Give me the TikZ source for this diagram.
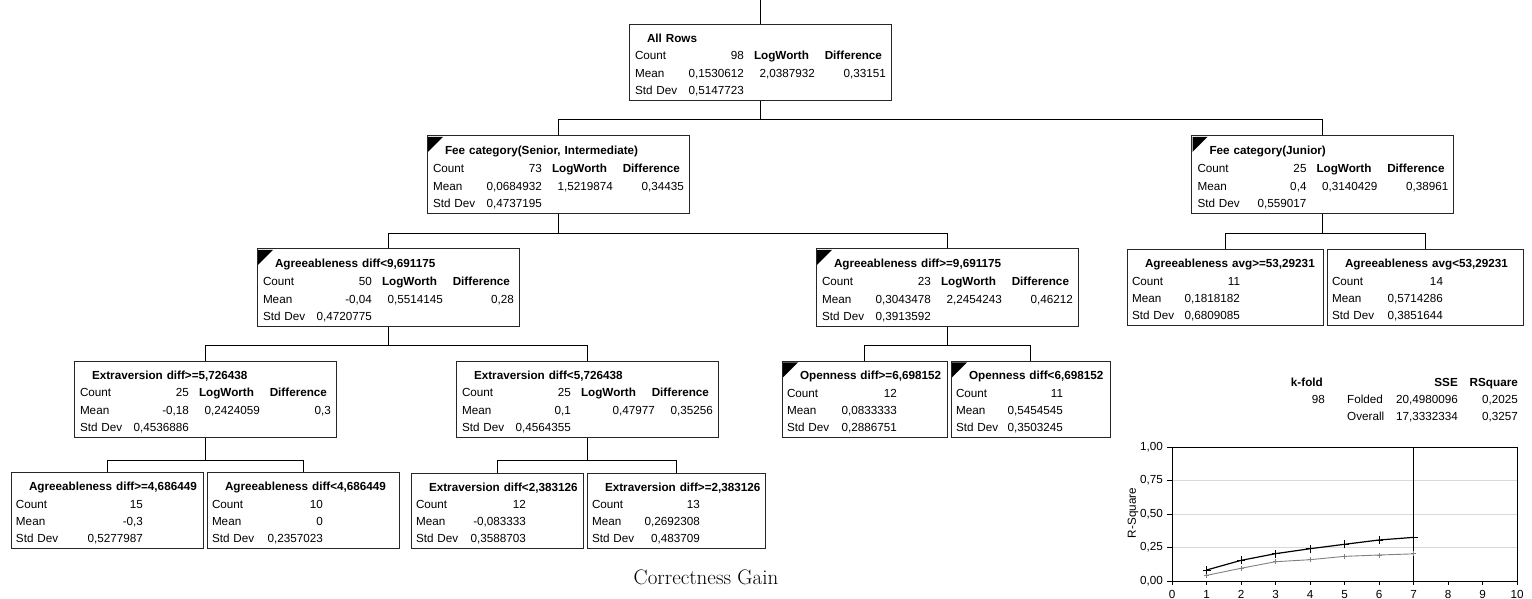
\documentclass[tikz,border=0pt]{standalone}
\usepackage{fontspec}
\setsansfont{Liberation Sans}

% one cell of a row, set at an offset (pt) from the left edge of its box
\newcommand\cellat[3]{\rlap{\hspace*{#1pt}\makebox[0pt][#2]{#3}}}
\newcommand\rowstrut{\rule[-2.3pt]{0pt}{17pt}}
% [logworth pos]{title}{count}{mean}{std dev}{logworth}{difference}
\newcommand\splitrows[7][186]{%
  \rowstrut\cellat{18}{l}{\bfseries #2}\\
  \rowstrut\cellat{6}{l}{Count}\cellat{115}{r}{#3}\cellat{125}{l}{\bfseries LogWorth}\cellat{253}{r}{\bfseries Difference}\\
  \rowstrut\cellat{6}{l}{Mean}\cellat{115}{r}{#4}\cellat{#1}{r}{#6}\cellat{257}{r}{#7}\\
  \rowstrut\cellat{6}{l}{Std Dev}\cellat{115}{r}{#5}}
% [value pos]{title}{count}{mean}{std dev}
\newcommand\leafrows[5][115]{%
  \rowstrut\cellat{18}{l}{\bfseries #2}\\
  \rowstrut\cellat{5}{l}{Count}\cellat{#1}{r}{#3}\\
  \rowstrut\cellat{5}{l}{Mean}\cellat{#1}{r}{#4}\\
  \rowstrut\cellat{5}{l}{Std Dev}\cellat{#1}{r}{#5}}

\begin{document}
\begin{tikzpicture}[
    x=1pt, y=-1pt,
    every node/.style={font=\sffamily\fontsize{11.7}{17}\selectfont},
    splitbox/.style={draw=black!85, line width=1pt, fill=white, text width=#1, inner xsep=0pt, inner ysep=3.5pt, align=left, minimum height=75pt},
    treeline/.style={line width=0.9pt},
    tabtext/.style={inner sep=0pt},
    captiontext/.style={font=\rmfamily\fontsize{21}{25}\selectfont, inner sep=0pt}
  ]
    \useasboundingbox (0,0) rectangle (1532,598);

    % Partition tree
    \node[splitbox=262pt] (root) at (760,62.5) {\splitrows{All Rows}{98}{0,1530612}{0,5147723}{2,0387932}{0,33151}};

    \node[splitbox=262pt] (fee1) at (558,174.5) {\splitrows{Fee category(Senior, Intermediate)}{73}{0,0684932}{0,4737195}{1,5219874}{0,34435}};
    \node[splitbox=262pt] (fee2) at (1322.5,174.5) {\splitrows{Fee category(Junior)}{25}{0,4}{0,559017}{0,3140429}{0,38961}};

    \node[splitbox=262pt] (agr1) at (388,287.5) {\splitrows{Agreeableness diff<9,691175}{50}{-0,04}{0,4720775}{0,5514145}{0,28}};
    \node[splitbox=262pt] (agr2) at (947,287.5) {\splitrows{Agreeableness diff>=9,691175}{23}{0,3043478}{0,3913592}{2,2454243}{0,46212}};
    \node[splitbox=196pt] (avg1) at (1225,287.5) {\leafrows[113]{Agreeableness avg>=53,29231}{11}{0,1818182}{0,6809085}};
    \node[splitbox=196pt] (avg2) at (1425,287.5) {\leafrows[116]{Agreeableness avg<53,29231}{14}{0,5714286}{0,3851644}};

    \node[splitbox=262pt] (ext1) at (205,399.5) {\splitrows{Extraversion diff>=5,726438}{25}{-0,18}{0,4536886}{0,2424059}{0,3}};
    \node[splitbox=262pt] (ext2) at (587,399.5) {\splitrows[199]{Extraversion diff<5,726438}{25}{0,1}{0,4564355}{0,47977}{0,35256}};
    \node[splitbox=165pt] (opn1) at (864.5,399.5) {\leafrows{Openness diff>=6,698152}{12}{0,0833333}{0,2886751}};
    \node[splitbox=159pt] (opn2) at (1030.5,399.5) {\leafrows[112]{Openness diff<6,698152}{11}{0,5454545}{0,3503245}};

    \node[splitbox=192pt] (leaf1) at (107,510.5) {\leafrows[132]{Agreeableness diff>=4,686449}{15}{-0,3}{0,5277987}};
    \node[splitbox=192pt] (leaf2) at (303,510.5) {\leafrows[116]{Agreeableness diff<4,686449}{10}{0}{0,2357023}};
    \node[splitbox=172pt] (leaf3) at (497,510.5) {\leafrows{Extraversion diff<2,383126}{12}{-0,083333}{0,3588703}};
    \node[splitbox=178pt] (leaf4) at (676,510.5) {\leafrows[113]{Extraversion diff>=2,383126}{13}{0,2692308}{0,483709}};

    % corner flags of the split nodes
    \foreach \n in {fee1,fee2,agr1,agr2,opn1,opn2}
      \fill (\n.north west) ++(1.5,1.5) -- ++(15,0) -- ++(-15,15) -- cycle;

    % Branches
    \coordinate (rootin) at (760,0);
    \draw[treeline] (rootin) -- (root.north);
    \draw[treeline] (root.south) -- ++(0,18) -| (fee1.north);
    \draw[treeline] (root.south) -- ++(0,18) -| (fee2.north);
    \draw[treeline] (fee1.south) -- ++(0,20) -| (agr1.north);
    \draw[treeline] (fee1.south) -- ++(0,20) -| (agr2.north);
    \draw[treeline] (fee2.south) -- ++(0,20) -| (avg1.north);
    \draw[treeline] (fee2.south) -- ++(0,20) -| (avg2.north);
    \draw[treeline] (agr1.south) -- ++(0,19) -| (ext1.north);
    \draw[treeline] (agr1.south) -- ++(0,19) -| (ext2.north);
    \draw[treeline] (agr2.south) -- ++(0,19) -| (opn1.north);
    \draw[treeline] (agr2.south) -- ++(0,19) -| (opn2.north);
    \draw[treeline] (ext1.south) -- ++(0,22) -| (leaf1.north);
    \draw[treeline] (ext1.south) -- ++(0,22) -| (leaf2.north);
    \draw[treeline] (ext2.south) -- ++(0,22) -| (leaf3.north);
    \draw[treeline] (ext2.south) -- ++(0,22) -| (leaf4.north);

    \node[captiontext, anchor=base] (gain) at (706,584) {Correctness Gain};

    % k-fold table
    \node[tabtext, anchor=base east] (kfold) at (1323,386) {\bfseries k-fold};
    \node[tabtext, anchor=base east] (kval) at (1325,403) {98};
    \node[tabtext, anchor=base west] (folded) at (1347,403) {Folded};
    \node[tabtext, anchor=base west] (overall) at (1347,420) {Overall};
    \node[tabtext, anchor=base east] (sse) at (1458,386) {\bfseries SSE};
    \node[tabtext, anchor=base east] (ssefold) at (1458,403) {20,4980096};
    \node[tabtext, anchor=base east] (sseall) at (1458,420) {17,3332334};
    \node[tabtext, anchor=base east] (rsq) at (1518,386) {\bfseries RSquare};
    \node[tabtext, anchor=base east] (rsqfold) at (1518,403) {0,2025};
    \node[tabtext, anchor=base east] (rsqall) at (1518,420) {0,3257};

    % R-square by number of splits
    \node[rotate=90, tabtext] (rsqaxis) at (1133,513) {R-Square};
    \begin{scope}[shift={(1172,581)}, x=34.5pt, y=134pt]
      \foreach \v in {0.25,0.5,0.75}
        \draw[gray!30, line width=0.9pt] (0,\v) -- (10,\v);
      \draw[line width=0.9pt] (0,0) rectangle (10,1);
      \draw[line width=0.9pt] (7,0) -- (7,1);
      \foreach \v/\t [count=\i] in {0/{0,00},0.25/{0,25},0.5/{0,50},0.75/{0,75},1/{1,00}} {
        \draw[line width=0.9pt] (0,\v) -- ++(-5pt,0);
        \node[tabtext, anchor=east, xshift=-9pt] (ytick\i) at (0,\v) {\t};
      }
      \foreach \k in {0,...,10} {
        \draw[line width=0.9pt] (\k,0) -- ++(0,-4pt);
        \node[tabtext, anchor=north, yshift=-9pt] (xtick\k) at (\k,0) {\k};
      }
      % folded
      \draw[gray, line width=0.9pt] plot coordinates {(1,0.042) (2,0.095) (3,0.144) (4,0.159) (5,0.184) (6,0.194) (7,0.2025)};
      \foreach \k/\r in {1/0.042,2/0.095,3/0.144,4/0.159,5/0.184,6/0.194,7/0.2025}
        \draw[gray, line width=0.8pt] (\k,\r) ++(-2.5pt,0) -- ++(5pt,0) (\k,\r) ++(0,-2.5pt) -- ++(0,5pt);
      % overall
      \draw[line width=1.2pt] plot coordinates {(1,0.082) (2,0.154) (3,0.204) (4,0.241) (5,0.274) (6,0.306) (7,0.3257)};
      \foreach \k/\r in {1/0.082,2/0.154,3/0.204,4/0.241,5/0.274,6/0.306,7/0.3257}
        \draw[line width=1pt] (\k,\r) ++(-4pt,0) -- ++(8pt,0) (\k,\r) ++(0,-4pt) -- ++(0,8pt);
    \end{scope}

  \end{tikzpicture}
\end{document}
